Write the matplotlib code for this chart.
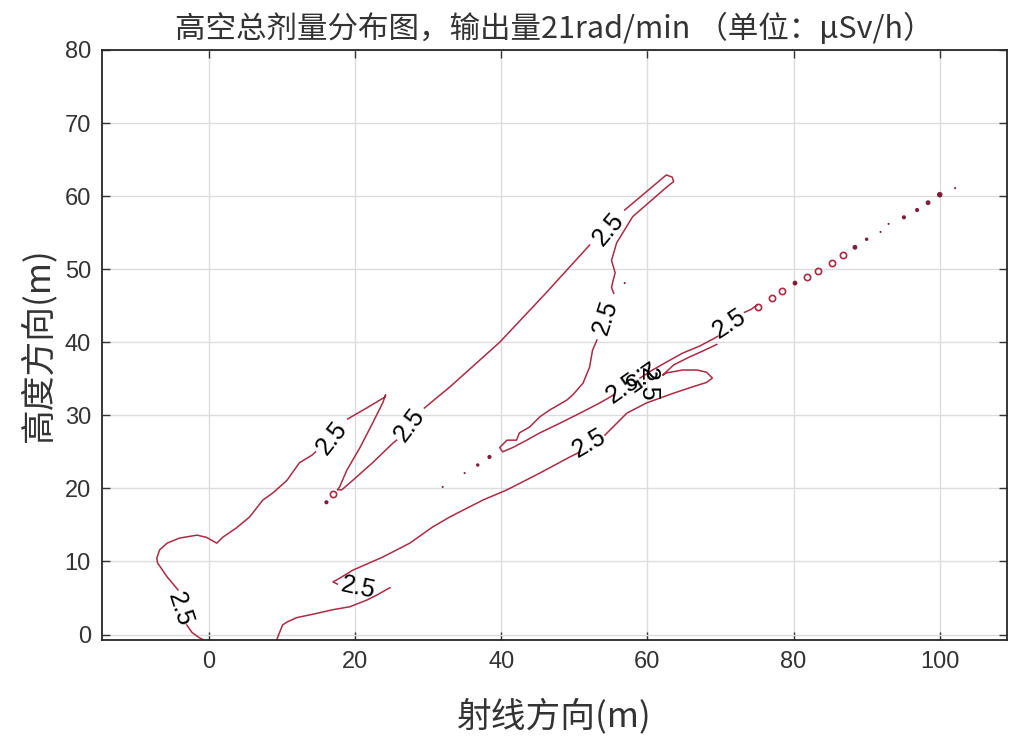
import numpy as np
import matplotlib
matplotlib.use("Agg")
import matplotlib.pyplot as plt

plt.rcParams['font.family'] = ['Liberation Sans', 'Noto Sans CJK SC', 'DejaVu Sans']

# ---- 等值线 2.5 (数据坐标, 从图上读取) ----
seg_a_x = [-0.6, -1.0, -1.5, -2.3, -3.0]
seg_a_y = [-0.75, -0.6, -0.3, 0.3, 1.3]

seg_b_x = [-4.2, -5.7, -7.0, -7.1, -6.7, -5.7, -4.0, -1.6, -0.3, 0.4, 1.1, 1.9, 3.8,
           5.6, 7.4, 8.8, 10.7, 12.4, 14.2, 14.6]
seg_b_y = [6.1, 7.9, 9.8, 10.5, 11.6, 12.5, 13.2, 13.6, 13.3, 12.9, 12.5, 13.3, 14.6,
           16.1, 18.4, 19.4, 21.1, 23.5, 24.6, 25.0]

seg_c_x = [19.0, 21.6, 24.1, 24.2, 23.8, 22.4, 20.7, 18.9, 17.9, 17.6, 18.2, 19.7,
           22.4, 25.2, 25.7]
seg_c_y = [29.5, 31.0, 32.5, 32.8, 31.7, 28.9, 25.6, 22.5, 20.2, 19.8, 19.8, 21.1,
           23.5, 26.2, 26.6]

seg_d_x = [29.5, 33.0, 39.8, 46.0, 52.1]
seg_d_y = [31.0, 33.9, 40.0, 46.6, 53.3]

seg_e_x = [56.9, 62.6, 63.4, 63.6, 62.6, 58.0, 55.8, 55.1, 55.6, 55.3, 55.1, 55.4]
seg_e_y = [58.1, 62.9, 62.6, 62.0, 61.2, 57.2, 53.6, 51.2, 49.5, 48.4, 47.5, 46.7]

seg_f_x = [53.1, 52.5, 52.1, 51.2, 49.8, 49.0, 46.6, 45.3, 43.9, 42.5, 42.1, 40.8,
           39.8, 40.2, 41.6, 43.5, 45.3, 48.0, 50.8, 53.5, 54.9, 55.5]
seg_f_y = [40.3, 38.9, 36.6, 34.4, 32.8, 32.1, 30.7, 29.8, 28.4, 27.6, 26.6, 26.6,
           25.6, 25.0, 25.6, 26.6, 27.6, 28.9, 30.3, 31.7, 32.5, 32.9]

seg_g_x = [59.0, 60.7, 63.0, 64.8, 67.2, 68.9, 69.6]
seg_g_y = [35.1, 36.2, 37.5, 38.5, 39.5, 40.4, 40.8]

seg_h_x = [73.3, 74.2, 75.0]
seg_h_y = [44.1, 44.5, 45.1]

seg_i_x = [9.3, 9.7, 10.1, 10.7, 12.0, 14.8, 17.0, 19.3, 21.6, 23.0, 24.4, 24.8]
seg_i_y = [-0.75, 0.3, 1.3, 1.7, 2.3, 2.9, 3.4, 3.8, 4.7, 5.4, 6.2, 6.4]

seg_j_x = [17.6, 17.0, 17.9, 19.7, 23.8, 27.5, 30.6, 33.0, 37.5, 40.8, 45.3, 49.4, 50.8]
seg_j_y = [6.9, 7.2, 7.7, 8.8, 10.6, 12.5, 14.7, 16.1, 18.4, 19.8, 22.1, 24.3, 25.0]

seg_k_x = [54.2, 57.2, 59.9, 63.5, 66.2, 68.1, 68.9, 68.1, 66.8, 64.8, 62.6, 62.1,
           63.6, 65.8, 67.8, 69.5]
seg_k_y = [27.3, 30.3, 31.7, 33.0, 33.9, 34.5, 35.1, 35.9, 36.2, 36.2, 35.8, 35.5,
           36.9, 38.0, 38.9, 39.7]

segments = [(seg_a_x, seg_a_y), (seg_b_x, seg_b_y), (seg_c_x, seg_c_y),
            (seg_d_x, seg_d_y), (seg_e_x, seg_e_y), (seg_f_x, seg_f_y),
            (seg_g_x, seg_g_y), (seg_h_x, seg_h_y), (seg_i_x, seg_i_y),
            (seg_j_x, seg_j_y), (seg_k_x, seg_k_y)]

# 小闭合等值线 (点状)
ring_x = [17.0, 75.1, 77.0, 78.4, 81.8, 83.3, 85.2, 86.7]
ring_y = [19.2, 44.8, 46.0, 47.0, 49.0, 49.8, 50.9, 51.9]
dot_x = [16.1, 32.0, 35.0, 36.8, 38.4, 56.9, 80.2, 88.4, 90.0, 91.9, 93.0, 95.1,
         96.9, 98.4, 100.0, 102.1]
dot_y = [18.1, 20.2, 22.1, 23.2, 24.3, 48.1, 48.1, 53.0, 54.1, 55.1, 56.2, 57.1,
         58.1, 59.1, 60.2, 61.1]
dot_s = [3, 1.5, 1.5, 2.5, 3, 1.5, 3.5, 3.5, 2.5, 1.5, 1.5, 3, 3, 3.5, 4, 1.5]

# 等值线标签
lab_x = [-4.0, 16.8, 27.5, 54.7, 54.3, 20.4, 52.1, 56.6, 58.7, 60.1, 71.3]
lab_y = [3.4, 26.9, 28.7, 55.5, 43.4, 6.4, 26.2, 33.7, 35.6, 34.3, 42.6]
lab_r = [-72, 52, 53, 50, 72, -12, 30, 35, 215, -90, 33]
lab_text = '2.5'

line_c = '#ab2b45'
cjk = ['Noto Sans CJK SC', 'DejaVu Sans']

fig = plt.figure(figsize=(10.09, 7.38), dpi=100)
ax = fig.add_axes([102 / 1009, 98 / 738, 905 / 1009, 590 / 738])

for sx, sy in segments:
    ax.plot(sx, sy, color=line_c, lw=1.1, solid_joinstyle='round')

ax.plot(ring_x, ring_y, 'o', ms=4.5, mfc='none', mec=line_c, mew=1.2, ls='none')
ax.scatter(dot_x, dot_y, s=np.array(dot_s) ** 2, color='#7d1f3a', lw=0)

for x, y, r in zip(lab_x, lab_y, lab_r):
    ax.text(x, y, lab_text, rotation=r, rotation_mode='anchor', ha='center',
            va='center', fontsize=18, color='black')

ax.set_xlim(-14.6, 109.2)
ax.set_ylim(-0.75, 80)
ax.set_xticks(np.arange(0, 101, 20))
ax.set_yticks(np.arange(0, 81, 10))
ax.grid(True, color='#dcdcdc', lw=1)
ax.set_axisbelow(True)
ax.tick_params(direction='in', top=True, right=True, length=6, width=1,
               labelsize=17, colors='#333333', pad=8)
for sp in ax.spines.values():
    sp.set_color('#262626')
    sp.set_linewidth(1.3)

ax.set_title('高空总剂量分布图，输出量21rad/min （单位：μSv/h）', fontsize=22,
             color='#333333', pad=9, family=cjk)
ax.set_xlabel('射线方向(m)', fontsize=25, color='#333333', labelpad=18, family=cjk)
ax.set_ylabel('高度方向(m)', fontsize=25, color='#333333', labelpad=6, family=cjk)

fig.savefig('out.png', dpi=100)
